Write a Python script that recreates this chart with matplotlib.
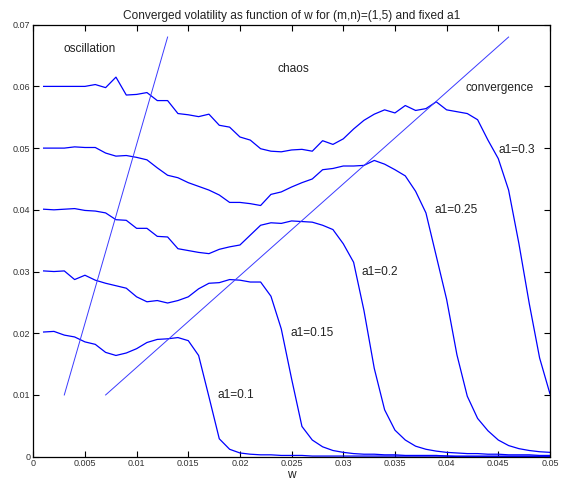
import numpy as np
import matplotlib.pyplot as plt

plt.rcParams['font.family'] = ['Liberation Sans', 'DejaVu Sans']

# w grid (0.001 .. 0.050)
w = [0.001, 0.002, 0.003, 0.004, 0.005, 0.006, 0.007, 0.008, 0.009, 0.010,
     0.011, 0.012, 0.013, 0.014, 0.015, 0.016, 0.017, 0.018, 0.019, 0.020,
     0.021, 0.022, 0.023, 0.024, 0.025, 0.026, 0.027, 0.028, 0.029, 0.030,
     0.031, 0.032, 0.033, 0.034, 0.035, 0.036, 0.037, 0.038, 0.039, 0.040,
     0.041, 0.042, 0.043, 0.044, 0.045, 0.046, 0.047, 0.048, 0.049, 0.050]

vol_030 = [0.0600, 0.0600, 0.0600, 0.0600, 0.0600, 0.0603, 0.0598, 0.0615, 0.0586, 0.0587,
           0.0590, 0.0577, 0.0577, 0.0556, 0.0554, 0.0551, 0.0555, 0.0537, 0.0534, 0.0518,
           0.0513, 0.0499, 0.0495, 0.0494, 0.0497, 0.0498, 0.0495, 0.0512, 0.0506, 0.0515,
           0.0531, 0.0545, 0.0555, 0.0562, 0.0557, 0.0569, 0.0561, 0.0564, 0.0575, 0.0562,
           0.0559, 0.0556, 0.0546, 0.0513, 0.0483, 0.0432, 0.0345, 0.0248, 0.0160, 0.0102]

vol_025 = [0.0500, 0.0500, 0.0500, 0.0502, 0.0501, 0.0501, 0.0492, 0.0487, 0.0488, 0.0485,
           0.0481, 0.0468, 0.0456, 0.0452, 0.0444, 0.0438, 0.0432, 0.0424, 0.0412, 0.0412,
           0.0410, 0.0407, 0.0425, 0.0429, 0.0437, 0.0444, 0.0450, 0.0465, 0.0467, 0.0471,
           0.0471, 0.0472, 0.0480, 0.0474, 0.0465, 0.0455, 0.0430, 0.0395, 0.0325, 0.0255,
           0.0165, 0.0098, 0.0062, 0.0042, 0.0027, 0.0018, 0.0013, 0.0010, 0.0008, 0.0007]

vol_020 = [0.0401, 0.0400, 0.0401, 0.0402, 0.0399, 0.0398, 0.0395, 0.0384, 0.0383, 0.0370,
           0.0370, 0.0357, 0.0356, 0.0337, 0.0334, 0.0331, 0.0329, 0.0336, 0.0340, 0.0343,
           0.0359, 0.0375, 0.0379, 0.0378, 0.0382, 0.0381, 0.0380, 0.0375, 0.0368, 0.0345,
           0.0315, 0.0237, 0.0143, 0.0076, 0.0043, 0.0027, 0.0017, 0.0012, 0.0009, 0.0007,
           0.0006, 0.0005, 0.0005, 0.0004, 0.0004, 0.0003, 0.0003, 0.0003, 0.0002, 0.0002]

vol_015 = [0.0301, 0.0300, 0.0301, 0.0287, 0.0294, 0.0286, 0.0281, 0.0277, 0.0273, 0.0259,
           0.0251, 0.0253, 0.0249, 0.0253, 0.0259, 0.0272, 0.0281, 0.0282, 0.0287, 0.0286,
           0.0283, 0.0283, 0.0260, 0.0207, 0.0126, 0.0049, 0.0027, 0.0016, 0.0010, 0.0007,
           0.0005, 0.0004, 0.0004, 0.0003, 0.0003, 0.0002, 0.0002, 0.0002, 0.0002, 0.0001,
           0.0001, 0.0001, 0.0001, 0.0001, 0.0001, 0.0001, 0.0001, 0.0001, 0.0001, 0.0001]

vol_010 = [0.0202, 0.0203, 0.0197, 0.0194, 0.0186, 0.0182, 0.0169, 0.0164, 0.0168, 0.0175,
           0.0185, 0.0190, 0.0191, 0.0193, 0.0188, 0.0164, 0.0097, 0.0029, 0.0012, 0.0006,
           0.0004, 0.0003, 0.0003, 0.0002, 0.0002, 0.0002, 0.0001, 0.0001, 0.0001, 0.0001,
           0.0001, 0.0001, 0.0001, 0.0001, 0.0001, 0.0001, 0.0001, 0.0001, 0.0001, 0.0001,
           0.0000, 0.0000, 0.0000, 0.0000, 0.0000, 0.0000, 0.0000, 0.0000, 0.0000, 0.0000]

# region borders (two straight lines)
border1_w = [0.003, 0.013]
border1_v = [0.010, 0.068]
border2_w = [0.007, 0.046]
border2_v = [0.010, 0.068]

curves = [vol_030, vol_025, vol_020, vol_015, vol_010]
curve_labels = ['a1=0.3', 'a1=0.25', 'a1=0.2', 'a1=0.15', 'a1=0.1']
label_pos = [(0.0450, 0.0497), (0.0388, 0.0399), (0.0318, 0.0300), (0.0249, 0.0200), (0.0178, 0.0100)]

fig = plt.figure(figsize=(5.68, 4.83), dpi=100)
ax = fig.add_axes([0.0586, 0.0545, 0.9096, 0.8944])

for v in curves:
    ax.plot(w, v, color='#0000ff', lw=0.9)

ax.plot(border1_w, border1_v, color='#3a3aff', lw=0.7)
ax.plot(border2_w, border2_v, color='#3a3aff', lw=0.7)

for lab, (x, y) in zip(curve_labels, label_pos):
    ax.text(x, y, lab, fontsize=8.6, va='center', ha='left', color='#222222')

ax.text(0.0029, 0.0660, 'oscillation', fontsize=8.6, va='center', color='#222222')
ax.text(0.0236, 0.0628, 'chaos', fontsize=8.6, va='center', color='#222222')
ax.text(0.0418, 0.0598, 'convergence', fontsize=8.6, va='center', color='#222222')

ax.set_xlim(0, 0.05)
ax.set_ylim(0, 0.07)
ax.set_xticks([0, 0.005, 0.01, 0.015, 0.02, 0.025, 0.03, 0.035, 0.04, 0.045, 0.05])
ax.set_xticklabels(['0', '0.005', '0.01', '0.015', '0.02', '0.025', '0.03', '0.035', '0.04', '0.045', '0.05'])
ax.set_yticks([0, 0.01, 0.02, 0.03, 0.04, 0.05, 0.06, 0.07])
ax.set_yticklabels(['0', '0.01', '0.02', '0.03', '0.04', '0.05', '0.06', '0.07'])
ax.tick_params(direction='in', length=4, width=0.8, labelsize=6.5,
               labelcolor='#333333', top=True, right=True, pad=2)
for s in ax.spines.values():
    s.set_linewidth(0.9)

ax.set_xlabel('w', fontsize=8.6, labelpad=0.5, color='#222222')
ax.set_title('Converged volatility as function of w for (m,n)=(1,5) and fixed a1',
             fontsize=8.6, pad=4, color='#222222')

fig.savefig('out.png', dpi=100)
